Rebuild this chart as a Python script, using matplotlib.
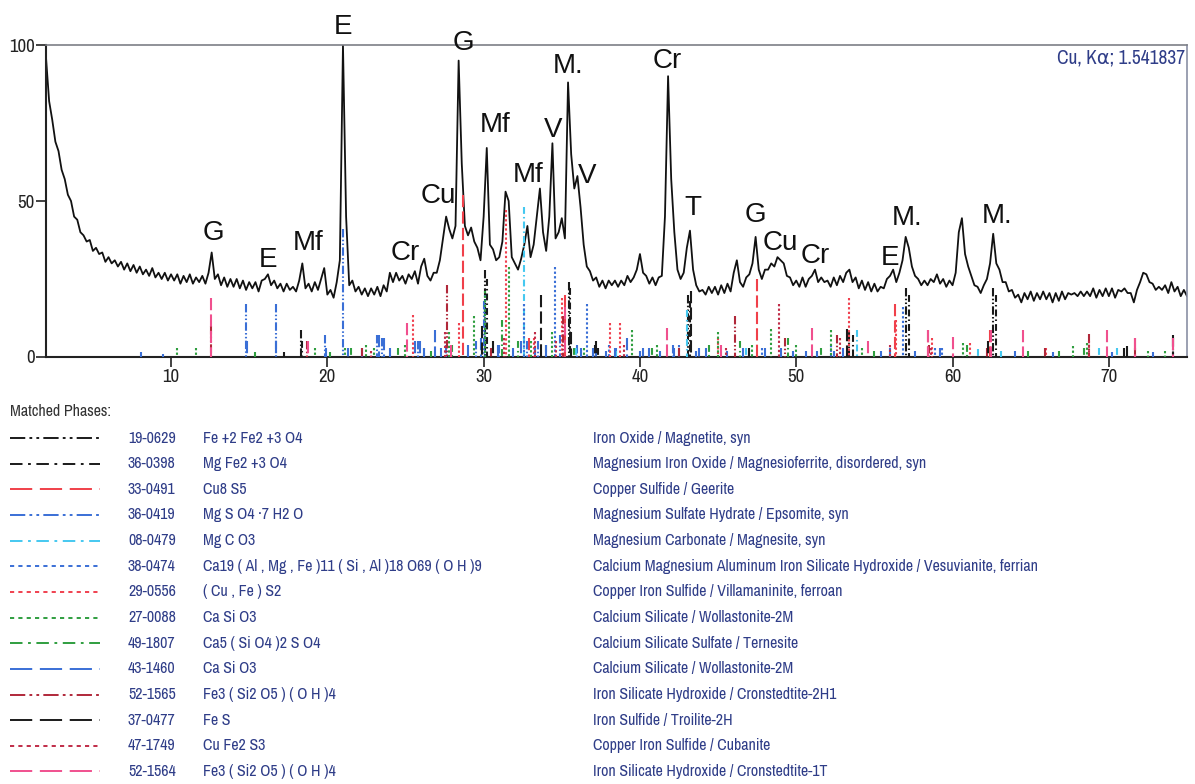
import numpy as np
import matplotlib
matplotlib.use("Agg")
import matplotlib.pyplot as plt
from matplotlib import font_manager

plt.rcParams['lines.scale_dashes'] = False

_names = {f.name for f in font_manager.fontManager.ttflist}
LABEL_FONT = 'Liberation Sans' if 'Liberation Sans' in _names else 'DejaVu Sans'
if 'Archivo Narrow' in _names:
    NARROW = ['Archivo Narrow', 'DejaVu Sans']
    SMALL_FS, TICK_FS, KA_FS = 11.5, 13.5, 14.0
else:
    NARROW = ['Liberation Sans', 'DejaVu Sans']
    SMALL_FS, TICK_FS, KA_FS = 9.6, 12.5, 11.5

# ---------------- measured pattern (2-theta step 0.2 deg) ----------------
intensity_02_20 = [
    96, 82, 76, 69, 66, 60, 57, 52, 50, 45,
    44, 40, 39, 37, 37.5, 34, 35, 33, 33.5, 30.5,
    32, 30, 31, 29, 30.5, 28, 30, 27.5, 29.5, 27,
    29, 26.5, 28, 26, 28.5, 25.5, 27, 25, 27, 24.5,
    26.5, 24.5, 26.5, 23.5, 26, 24, 26.5, 23.5, 25.5, 24,
    26, 23.5, 27, 33.5, 25, 26.5, 23, 25.5, 22.5, 25,
    22.5, 25, 22, 24.5, 21.5, 24, 22, 24, 21, 24.5,
    25, 26.5, 23, 24.5, 22, 23.5, 21, 23.5, 21.5, 22.5,
    21, 24.5, 30, 22, 23.5, 21, 24, 21.5, 25, 28.5,
]
intensity_20_40 = [
    20, 21.5, 19, 24, 31, 100, 45, 23, 24.5, 21,
    22.5, 20, 22, 19.5, 22, 20, 22.5, 19.5, 23, 21,
    27, 24, 27, 24.5, 26, 23.5, 26.5, 25, 27.5, 23.5,
    29, 31.5, 26, 24.5, 27, 27, 31, 38, 45, 41,
    38, 42, 95, 62, 42, 39, 41.5, 37, 35, 31,
    45, 67, 36, 34.5, 31, 32, 37, 53, 50, 32,
    30, 28, 31.5, 36, 42, 32, 36, 45, 54, 40,
    34, 45, 68.5, 38, 40, 44.5, 38, 88, 65, 54,
    58, 48, 36, 29, 27.5, 24.5, 25.5, 22.5, 24.5, 22,
    24.5, 23, 24.5, 22.5, 24.5, 23, 26, 24, 25.5, 28,
]
intensity_40_60 = [
    33, 27, 26, 23.5, 25.5, 23, 25.5, 26, 45, 90,
    57, 40, 28, 25, 27, 35, 40.5, 28, 23, 21,
    21.5, 20, 22.5, 20.5, 22.5, 20, 23, 20.5, 23.5, 21,
    27, 31, 24, 22.5, 25.5, 26.5, 30, 38.5, 28, 25,
    28, 28, 30, 29, 32, 31, 30, 26, 25.5, 23,
    24.5, 22.5, 25.5, 22.5, 25, 26, 28, 24, 25.5, 24,
    24.5, 22.5, 25.5, 23, 26, 24, 27, 28, 24, 25.5,
    22, 24.5, 21.5, 24, 21, 23.5, 21, 22.5, 22, 25,
    26, 28, 24, 27, 31, 38.5, 35, 29, 26, 25,
    23, 24.5, 23, 25, 24, 26.5, 23.5, 25, 22.5, 24.5,
]
intensity_60_75 = [
    23, 27, 40, 44.5, 33, 29, 26, 23, 22.5, 20.5,
    23, 25, 30, 39.5, 30, 28, 24, 24, 21, 21.5,
    19, 20, 17.5, 20.5, 18.5, 21, 18, 20.5, 18.5, 21,
    18.5, 20.5, 17.5, 20.5, 18, 21, 18.5, 20.5, 20, 20.5,
    19.5, 21, 19.5, 21, 19.5, 22, 19, 21.5, 19.5, 22,
    19.5, 22, 19, 21.5, 21, 22, 20.5, 20.5, 17.5, 21.5,
    24, 27, 26.5, 24, 23.5, 21.5, 22.5, 21.5, 23, 20.5,
    24, 21, 22.5, 19.5, 21.5, 19.5,
]
two_theta = np.round(np.arange(2.0, 75.0 + 1e-9, 0.2), 1)
intensity = np.array(intensity_02_20 + intensity_20_40 + intensity_40_60 + intensity_60_75)

# ---------------- peak labels ----------------
peak_labels = ["E", "G", "E", "Mf", "Cr", "Cu", "G", "Mf", "Mf", "V", "M.", "V",
               "Cr", "T", "G", "Cu", "Cr", "E", "M.", "M."]
peak_label_x = [21.0, 12.69, 16.2, 18.76, 24.97, 27.08, 28.68, 30.73, 32.84, 34.44, 35.4, 36.61,
                41.73, 43.39, 47.42, 48.96, 51.2, 56.0, 57.08, 62.84]
peak_label_y = [106.7, 40.7, 32.1, 37.5, 34.3, 52.6, 101.6, 75.3, 59.3, 73.7, 94.2, 59.0,
                95.8, 48.7, 46.5, 37.5, 33.3, 32.7, 45.5, 46.2]

# ---------------- matched phases ----------------
phase_codes = ["19-0629", "36-0398", "33-0491", "36-0419", "08-0479", "38-0474", "29-0556",
               "27-0088", "49-1807", "43-1460", "52-1565", "37-0477", "47-1749", "52-1564"]
phase_formulas = ["Fe +2 Fe2 +3 O4", "Mg Fe2 +3 O4", "Cu8 S5", "Mg S O4 ·7 H2 O", "Mg C O3",
                  "Ca19 ( Al , Mg , Fe )11 ( Si , Al )18 O69 ( O H )9", "( Cu , Fe ) S2",
                  "Ca Si O3", "Ca5 ( Si O4 )2 S O4", "Ca Si O3", "Fe3 ( Si2 O5 ) ( O H )4",
                  "Fe S", "Cu Fe2 S3", "Fe3 ( Si2 O5 ) ( O H )4"]
phase_names = ["Iron Oxide / Magnetite, syn",
               "Magnesium Iron Oxide / Magnesioferrite, disordered, syn",
               "Copper Sulfide / Geerite",
               "Magnesium Sulfate Hydrate / Epsomite, syn",
               "Magnesium Carbonate / Magnesite, syn",
               "Calcium Magnesium Aluminum Iron Silicate Hydroxide / Vesuvianite, ferrian",
               "Copper Iron Sulfide / Villamaninite, ferroan",
               "Calcium Silicate / Wollastonite-2M",
               "Calcium Silicate Sulfate / Ternesite",
               "Calcium Silicate / Wollastonite-2M",
               "Iron Silicate Hydroxide / Cronstedtite-2H1",
               "Iron Sulfide / Troilite-2H",
               "Copper Iron Sulfide / Cubanite",
               "Iron Silicate Hydroxide / Cronstedtite-1T"]

# stick positions (2-theta) and heights for each phase
pos_19_0629 = [18.3, 30.1, 35.45, 37.1, 43.1, 53.4, 57.0, 62.6, 71.0, 74.1]
h_19_0629 = [8.7, 28, 24, 4, 20, 8, 22, 22, 3, 6]
pos_36_0398 = [18.4, 30.2, 35.55, 37.3, 43.2, 53.6, 57.2, 62.8]
h_36_0398 = [5, 25, 22, 3, 18, 7, 20, 20]
pos_33_0491 = [28.7, 32.9, 35.2, 47.5, 56.3, 58.4, 62.4, 71.7]
h_33_0491 = [52, 6, 20, 25, 17, 8.5, 8.5, 6]
pos_36_0419 = [14.8, 16.7, 19.85, 21.0, 21.3, 23.2, 23.5, 25.8, 27.6, 29.5, 30.0, 31.0, 32.8,
               33.5, 34.9, 36.0, 37.2, 38.5, 40.2, 42.1, 43.8]
h_36_0419 = [17, 17, 7, 41, 3, 7, 6, 5, 4, 5, 18, 4, 5, 5, 7, 4, 3, 3, 3, 4, 3]
pos_08_0479 = [32.6, 35.9, 38.5, 43.0, 46.8, 53.9, 61.6, 63.1, 69.4, 70.5]
h_08_0479 = [48, 3, 2, 15, 3, 8.5, 2.5, 2, 3, 3]
pos_38_0474 = [30.1, 32.6, 34.55, 36.6, 38.0, 42.5, 47.8, 52.2, 56.8, 58.9, 59.3]
h_38_0474 = [20, 17, 29, 17, 4, 4, 3, 4, 16, 3, 3]
pos_29_0556 = [25.5, 28.4, 31.4, 33.2, 35.0, 38.1, 38.7, 45.0, 53.4, 56.4, 58.7, 61.1, 66.0]
h_29_0556 = [13.5, 11, 47, 6, 19, 11, 11, 6, 19, 12, 6, 4.5, 3]
pos_27_0088 = [10.4, 11.6, 19.2, 21.1, 22.5, 23.0, 25.0, 26.2, 27.8, 29.4, 30.1, 31.6, 33.0,
               34.4, 36.4, 39.5, 41.1, 45.0, 47.2, 48.4, 50.0, 52.2, 54.2, 60.7, 67.7, 68.6,
               72.5, 73.6]
h_27_0088 = [3, 3, 3, 3, 4, 3, 4, 3, 8, 13, 21, 29, 5, 8, 3, 8.5, 4, 8, 4, 9, 4, 8.5, 3,
             4.5, 3.5, 4.5, 2, 2]
pos_49_1807 = [15.4, 20.2, 21.5, 24.5, 26.6, 28.0, 31.2, 32.2, 34.0, 35.8, 40.8, 44.4, 46.4,
               49.5, 51.6, 55.0, 60.9, 64.8, 66.8, 68.4]
h_49_1807 = [1.5, 1.5, 3, 3, 2, 4, 12, 5, 4, 3, 3, 4, 5, 6, 3, 2, 4, 2, 2, 3]
pos_43_1460 = [8.1, 9.5, 14.85, 16.7, 19.9, 22.2, 23.3, 23.6, 24.0, 25.6, 25.9, 26.2, 26.9,
               27.3, 29.0, 29.8, 30.9, 31.9, 32.4, 33.3, 34.0, 36.2, 37.0, 37.8, 38.4, 39.2,
               40.0, 40.6, 41.3, 42.2, 43.6, 44.2, 45.6, 46.6, 47.0, 48.0, 49.0, 49.8, 50.6,
               51.3, 52.4, 53.0, 55.4, 56.0, 57.6, 59.2, 64.0, 66.4, 70.2, 72.8]
h_43_1460 = [1.5, 1, 5, 5, 3, 3, 7, 6, 3, 5, 5, 3, 8.5, 3, 4, 6, 4, 3, 5, 3, 4, 3, 3, 2, 3,
             6, 2, 3, 2, 3, 2, 3, 2, 3, 2, 3, 3, 2, 2, 2, 2, 3, 2, 3, 2, 3, 2, 1.5, 1.5, 1.5]
pos_52_1565 = [12.55, 18.7, 22.2, 27.65, 30.5, 35.1, 42.5, 46.1, 49.3, 52.6, 58.5, 62.2, 65.9,
               68.7, 71.7]
h_52_1565 = [10, 5, 3, 23, 3, 13, 3, 13, 6, 7, 4, 3, 3, 7.5, 3]
pos_37_0477 = [17.2, 29.9, 30.6, 33.7, 35.6, 37.2, 43.25, 47.0, 53.25, 62.3, 71.15, 74.1]
h_37_0477 = [1.5, 10, 5, 20, 8, 5, 21, 3, 9, 5, 3.5, 7]
pos_47_1749 = [22.8, 27.5, 31.3, 33.3, 34.6, 39.0, 45.5, 48.9, 52.8, 56.0, 58.6, 68.7]
h_47_1749 = [2, 8, 6, 8, 5, 4, 3, 17, 6, 4, 3, 5]
pos_52_1564 = [12.55, 18.75, 25.1, 27.9, 35.2, 41.7, 45.2, 51.0, 54.6, 58.4, 60.0, 62.45, 64.5,
               69.9, 71.7, 74.1]
h_52_1564 = [19, 5, 11, 4, 16, 9.3, 4, 9.3, 5, 8.6, 6.5, 8.6, 8.5, 8.5, 6, 6]

stick_pos = [pos_19_0629, pos_36_0398, pos_33_0491, pos_36_0419, pos_08_0479, pos_38_0474,
             pos_29_0556, pos_27_0088, pos_49_1807, pos_43_1460, pos_52_1565, pos_37_0477,
             pos_47_1749, pos_52_1564]
stick_h = [h_19_0629, h_36_0398, h_33_0491, h_36_0419, h_08_0479, h_38_0474, h_29_0556,
           h_27_0088, h_49_1807, h_43_1460, h_52_1565, h_37_0477, h_47_1749, h_52_1564]

# ---------------- styles ----------------
DDD = (11, 3, 2, 3, 2, 3)     # dash-dot-dot
DD = (9, 4, 2, 4)             # dash-dot
LD = (16, 5.5)                # long dash
DOT = (3, 3)                  # dotted
phase_colors = ['#1a1a1a', '#1a1a1a', '#f0404a', '#3a6fd6', '#45c8f0', '#3a6fd6', '#f0404f',
                '#2f9e3f', '#2f9e3f', '#3a6fd6', '#b0283a', '#1a1a1a', '#c02c48', '#f0508e']
phase_dashes = [DDD, DD, LD, DDD, DD, DOT, DOT, DOT, DD, LD, DDD, LD, DOT, LD]

NAVY = '#2f3d88'
W, H = 1195, 784

def px_rect(l, t, r, b):
    return [l / W, 1 - b / H, (r - l) / W, (b - t) / H]

fig = plt.figure(figsize=(W / 100, H / 100), dpi=100)
fig.patch.set_facecolor('white')

bg = fig.add_axes([0, 0, 1, 1])
bg.set_xlim(0, W)
bg.set_ylim(H, 0)
bg.axis('off')

ax = fig.add_axes(px_rect(46, 45, 1187, 357))
ax.set_xlim(2.0, 75.0)
ax.set_ylim(0, 100)
ax.plot(two_theta, intensity, color='#111111', lw=1.3, zorder=2)

for p, h, c, d in zip(stick_pos, stick_h, phase_colors, phase_dashes):
    sd = (0, tuple(v * 0.55 for v in d))
    ax.vlines(p, np.array(h), 0, colors=c, linestyles=[sd], lw=1.5, zorder=3)

for lab, x, y in zip(peak_labels, peak_label_x, peak_label_y):
    ax.text(x, y - 1.0, lab, ha='center', va='center', fontsize=20, family=LABEL_FONT,
            color='#111111', clip_on=False, zorder=5)

ax.text(0.998, 0.958, 'Cu, K\u03b1; 1.541837', transform=ax.transAxes, ha='right', va='center',
        fontsize=KA_FS, family=NARROW, color=NAVY)

ax.set_xticks([10, 20, 30, 40, 50, 60, 70])
ax.set_yticks([0, 50, 100])
ax.tick_params(axis='both', direction='out', length=7, width=1.2, color='#222222',
               labelcolor='#222222', labelsize=TICK_FS)
ax.tick_params(axis='y', pad=1)
ax.tick_params(axis='x', pad=2)
for lab in ax.get_xticklabels() + ax.get_yticklabels():
    lab.set_family(NARROW)
for s in ['left', 'bottom']:
    ax.spines[s].set_color('#222222')
    ax.spines[s].set_linewidth(1.5)
ax.spines['top'].set_color('#7d7f86')
ax.spines['right'].set_color('#8a90a4')
ax.spines['top'].set_linewidth(1.2)
ax.spines['right'].set_linewidth(1.2)

# ---------------- matched phases legend ----------------
bg.text(10, 411, 'Matched Phases:', ha='left', va='center', fontsize=SMALL_FS,
        family=NARROW, color='#333333')
for i in range(len(phase_codes)):
    y = 438 + i * 25.65
    bg.plot([10, 100], [y, y], color=phase_colors[i], lw=1.4,
            linestyle=(0, phase_dashes[i]))
    bg.text(128, y, phase_codes[i], ha='left', va='center', fontsize=SMALL_FS,
            family=NARROW, color=NAVY)
    bg.text(203, y, phase_formulas[i], ha='left', va='center', fontsize=SMALL_FS,
            family=NARROW, color=NAVY)
    bg.text(593, y, phase_names[i], ha='left', va='center', fontsize=SMALL_FS,
            family=NARROW, color=NAVY)

fig.savefig('out.png', dpi=100, facecolor='white')
